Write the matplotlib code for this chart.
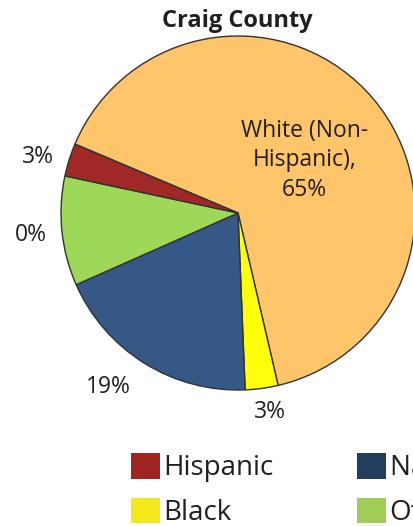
import matplotlib
matplotlib.use("Agg")
import matplotlib.pyplot as plt
from matplotlib.patches import Patch
import numpy as np

plt.rcParams['font.family'] = ['Open Sans', 'DejaVu Sans']

# Data (clockwise from the top-left boundary)
categories = ["White (Non-Hispanic)", "Black", "Native American", "Other", "Hispanic"]
values = [65, 3, 19, 10, 3]
slice_labels = ["White (Non-\nHispanic),\n65%", "3%", "19%", "0%", "3%"]
pie_colors = ["#FFC56B", "#FFFF0A", "#365887", "#9ED858", "#A02826"]

legend_labels = ["Hispanic", "Black", "Native American", "Other"]
legend_colors = ["#9E2421", "#F2E81A", "#233D5C", "#9FCD58"]

fig = plt.figure(figsize=(4.13, 5.26), dpi=100)
W, H = 413, 526
cx, cy, r = 238, 213, 177
ax = fig.add_axes([(cx - r) / W, (H - cy - r) / H, 2 * r / W, 2 * r / H])

wedges, _ = ax.pie(values, colors=pie_colors, startangle=157.1, counterclock=False,
                   radius=1, wedgeprops=dict(edgecolor="#333333", linewidth=1.0))
ax.set_xlim(-1, 1)
ax.set_ylim(-1, 1)
ax.set_aspect('equal')
ax.axis('off')

# label placement (style): radial distance and angular nudge per slice
dists = [0.48, 1.14, 1.225, 1.176, 1.174]
nudges = [-1.8, 1.4, -4.7, 0.2, 1.9]
for i, (w, lab) in enumerate(zip(wedges, slice_labels)):
    ang = np.deg2rad((w.theta1 + w.theta2) / 2 + nudges[i])
    x, y = dists[i] * np.cos(ang), dists[i] * np.sin(ang)
    ax.text(x, y, lab, ha='center', va='center', fontsize=16.5, color="#231F20",
            linespacing=1.32, clip_on=False)

fig.text(237 / W, 1 - 21 / H, "Craig County", ha='center', va='center',
         fontsize=17, fontweight='bold', color="#231F20")

handles = [Patch(facecolor=c, edgecolor='none') for c in legend_colors]
fig.legend(handles, legend_labels, ncol=2, loc='upper left',
           bbox_to_anchor=(131 / W, 1 - 453 / H), frameon=False,
           fontsize=20, handlelength=1.05, handleheight=1.05, handletextpad=0.12,
           labelspacing=0.55, columnspacing=3.0, borderpad=0, borderaxespad=0,
           labelcolor="#231F20")

fig.savefig("out.png", dpi=100)
